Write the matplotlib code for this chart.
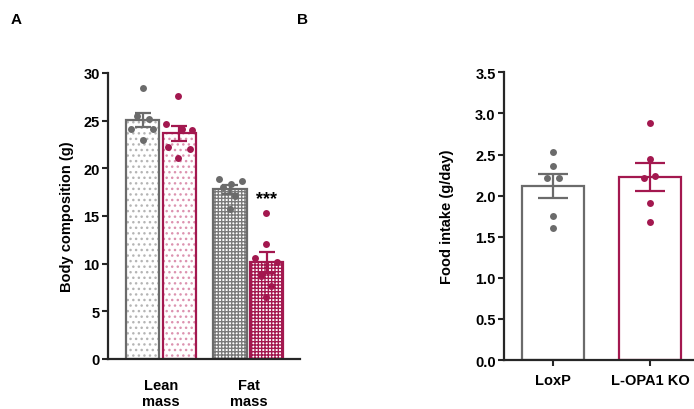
import numpy as np
import matplotlib.pyplot as plt

plt.rcParams['font.family'] = ['Liberation Sans', 'DejaVu Sans']
plt.rcParams['font.weight'] = 'bold'
plt.rcParams['axes.labelweight'] = 'bold'
plt.rcParams['font.size'] = 10.5
plt.rcParams['hatch.linewidth'] = 1.0

GRAY = '#6b6b6b'
RED = '#a3184f'
AXC = '#262626'

# panel A: body composition
groups_a = ['Lean\nmass', 'Fat\nmass']
lean_loxp = [28.4, 25.5, 25.2, 24.1, 24.1, 23.0]
lean_loxp_dx = [0.0, -0.065, 0.072, -0.13, 0.118, 0.0]
lean_ko = [27.6, 24.6, 24.1, 24.0, 22.2, 22.0, 21.1]
lean_ko_dx = [-0.01, -0.154, 0.025, 0.139, -0.135, 0.12, -0.01]
fat_loxp = [18.9, 18.7, 18.4, 18.0, 17.1, 15.7]
fat_loxp_dx = [-0.122, 0.133, 0.008, -0.076, 0.057, 0.0]
fat_ko = [15.3, 12.1, 10.6, 10.2, 8.7, 7.7, 6.5]
fat_ko_dx = [-0.011, -0.011, -0.137, 0.118, -0.072, 0.053, -0.015]

# panel B: food intake
groups_b = ['LoxP', 'L-OPA1 KO']
food_loxp = [2.53, 2.36, 2.22, 2.22, 1.75, 1.61]
food_loxp_dx = [0.0, 0.0, -0.065, 0.065, 0.0, 0.0]
food_ko = [2.88, 2.45, 2.22, 2.24, 1.91, 1.68]
food_ko_dx = [0.0, 0.0, -0.062, 0.052, 0.0, 0.0]


def sem(v):
    v = np.asarray(v)
    return v.std(ddof=1) / np.sqrt(len(v))


def draw_bar(ax, x, vals, dx, color, width, hatch=None, hatchcolor=None, capsize=6):
    m = np.mean(vals)
    if hatch:
        ax.bar(x, m, width, color='white', edgecolor=hatchcolor, hatch=hatch, linewidth=0, zorder=1)
    ax.bar(x, m, width, fill=False, edgecolor=color, linewidth=1.6, zorder=2)
    ax.errorbar(x, m, yerr=sem(vals), color=color, capsize=capsize, elinewidth=1.6,
                capthick=1.6, zorder=3)
    ax.plot(x + np.asarray(dx), vals, 'o', color=color, ms=5, mec='none', zorder=4)


def style(ax):
    for s in ['top', 'right']:
        ax.spines[s].set_visible(False)
    for s in ['left', 'bottom']:
        ax.spines[s].set_linewidth(1.6)
        ax.spines[s].set_color(AXC)
    ax.tick_params(axis='y', width=1.5, length=4, color=AXC, pad=2)


fig = plt.figure(figsize=(6.94, 4.10), dpi=100)

# ---- A
ax1 = fig.add_axes([0.1556, 0.122, 0.2767, 0.6976])
off, w = 0.21, 0.38
draw_bar(ax1, 0 - off, lean_loxp, lean_loxp_dx, GRAY, w, '...', '#b5b5b5', 6)
draw_bar(ax1, 0 + off, lean_ko, lean_ko_dx, RED, w, '...', '#dc93b0', 6)
draw_bar(ax1, 1 - off, fat_loxp, fat_loxp_dx, GRAY, w, '+++++', '#7a7a7a', 6)
draw_bar(ax1, 1 + off, fat_ko, fat_ko_dx, RED, w, '+++++', RED, 6)
ax1.text(1 + off, 16.8, '***', ha='center', va='center', fontsize=13)
ax1.set_xlim(-0.606, 1.589)
ax1.set_ylim(0, 30)
ax1.set_yticks(np.arange(0, 31, 5))
ax1.set_xticks([0, 1])
ax1.set_xticklabels(groups_a, linespacing=1.15)
ax1.tick_params(axis='x', length=0, pad=14)
ax1.set_ylabel('Body composition (g)', labelpad=7)
style(ax1)

# ---- B
ax2 = fig.add_axes([0.7262, 0.1195, 0.2824, 0.7017])
draw_bar(ax2, 0, food_loxp, food_loxp_dx, GRAY, 0.64, capsize=11)
draw_bar(ax2, 1, food_ko, food_ko_dx, RED, 0.64, capsize=11)
ax2.set_xlim(-0.505, 1.515)
ax2.set_ylim(0, 3.5)
ax2.set_yticks(np.arange(0, 3.51, 0.5))
ax2.set_yticklabels(['%.1f' % t for t in np.arange(0, 3.51, 0.5)])
ax2.set_xticks([0, 1])
ax2.set_xticklabels(groups_b)
ax2.tick_params(axis='x', width=1.5, length=4, color=AXC, pad=5)
ax2.set_ylabel('Food intake (g/day)', labelpad=15)
style(ax2)

fig.text(0.015, 0.951, 'A', fontsize=11, ha='left', va='center')
fig.text(0.428, 0.951, 'B', fontsize=11, ha='left', va='center')

fig.savefig('out.png', dpi=100)
